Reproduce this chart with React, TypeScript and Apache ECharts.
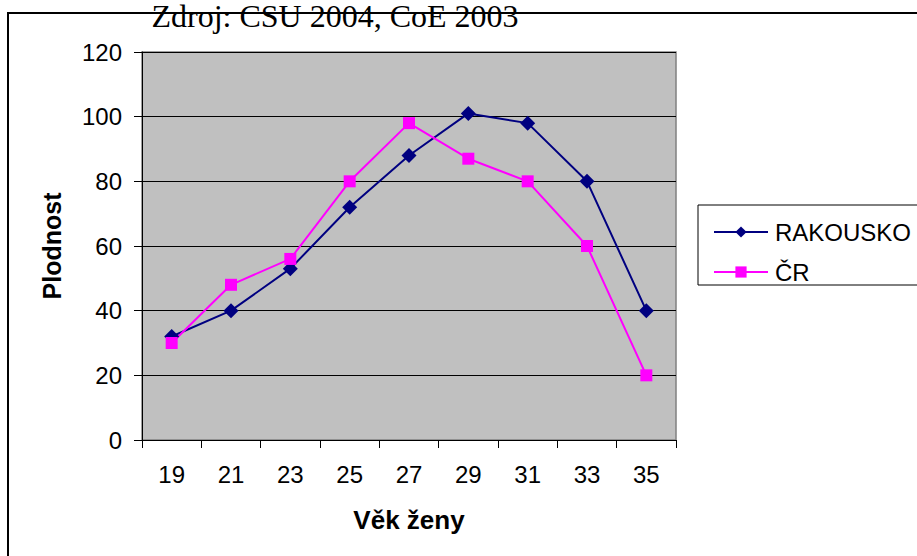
import React, { useEffect, useRef } from "react";
import * as echarts from "echarts";

const ages = ["19", "21", "23", "25", "27", "29", "31", "33", "35"];
const rakousko = [32, 40, 53, 72, 88, 101, 98, 80, 40];
const cr = [30, 48, 56, 80, 98, 87, 80, 60, 20];
const seriesNames = ["RAKOUSKO", "ČR"];
const titleText = "Zdroj: CSU 2004, CoE 2003";
const xAxisTitle = "Věk ženy";
const yAxisTitle = "Plodnost";

export default function App() {
  const ref = useRef<HTMLDivElement>(null);
  useEffect(() => {
    if (!ref.current) return;
    const chart = echarts.init(ref.current, undefined, { renderer: "svg" });
    const font = "Arial, 'Liberation Sans', sans-serif";
    chart.setOption({
      animation: false,
      backgroundColor: "#ffffff",
      textStyle: { fontFamily: font },
      grid: {
        left: 142,
        top: 52,
        right: 241,
        bottom: 116,
        containLabel: false,
        show: true,
        backgroundColor: "#C0C0C0",
        borderColor: "#808080",
        borderWidth: 1.5,
      },
      graphic: [
        {
          type: "rect",
          shape: { x: 8, y: 13, width: 1200, height: 800 },
          style: { fill: "none", stroke: "#000", lineWidth: 2 },
          z: -10,
          silent: true,
        },
        {
          type: "rect",
          shape: { x: 698, y: 205, width: 400, height: 80 },
          style: { fill: "#fff", stroke: "#000", lineWidth: 1 },
          z: -5,
          silent: true,
        },
        {
          type: "text",
          x: 335,
          y: 16,
          style: {
            text: titleText,
            fill: "#000",
            font: "32px 'Liberation Serif', 'Times New Roman', serif",
            align: "center",
            verticalAlign: "middle",
          },
          z: 10,
        },
      ],
      legend: {
        orient: "vertical",
        left: 708,
        top: 215,
        itemWidth: 54,
        itemHeight: 14,
        itemGap: 16,
        data: seriesNames,
        textStyle: { fontSize: 24, color: "#000", fontFamily: font, lineHeight: 24, padding: [0, 0, 0, 2] },
      },
      xAxis: {
        type: "category",
        data: ages,
        boundaryGap: true,
        name: xAxisTitle,
        nameLocation: "middle",
        nameGap: 67,
        nameTextStyle: { fontSize: 26, fontWeight: "bold", color: "#000", fontFamily: font },
        axisLine: { show: true, lineStyle: { color: "#000", width: 1 } },
        axisTick: { show: true, length: 8, interval: 0, alignWithLabel: false, lineStyle: { color: "#000" } },
        axisLabel: { fontSize: 24, color: "#000", margin: 22, interval: 0 },
        splitLine: { show: false },
      },
      yAxis: {
        type: "value",
        min: 0,
        max: 120,
        interval: 20,
        name: yAxisTitle,
        nameLocation: "middle",
        nameRotate: 90,
        nameGap: 78,
        nameTextStyle: { fontSize: 25, fontWeight: "bold", color: "#000", fontFamily: font },
        axisLine: { show: true, lineStyle: { color: "#000", width: 1 } },
        axisTick: { show: true, length: 8, lineStyle: { color: "#000" } },
        axisLabel: { fontSize: 24, color: "#000", margin: 20 },
        splitLine: { show: true, lineStyle: { color: "#000", width: 1 } },
      },
      series: [
        {
          name: seriesNames[0],
          type: "line",
          data: rakousko,
          symbol: "diamond",
          symbolSize: 15,
          lineStyle: { color: "#000080", width: 2 },
          itemStyle: { color: "#000080" },
        },
        {
          name: seriesNames[1],
          type: "line",
          data: cr,
          symbol: "rect",
          symbolSize: 12,
          lineStyle: { color: "#FF00FF", width: 2 },
          itemStyle: { color: "#FF00FF" },
        },
      ],
    });
    return () => chart.dispose();
  }, []);
  return (
    <div
      ref={ref}
      style={{ position: "fixed", left: 0, top: 0, width: 917, height: 556 }}
    />
  );
}
